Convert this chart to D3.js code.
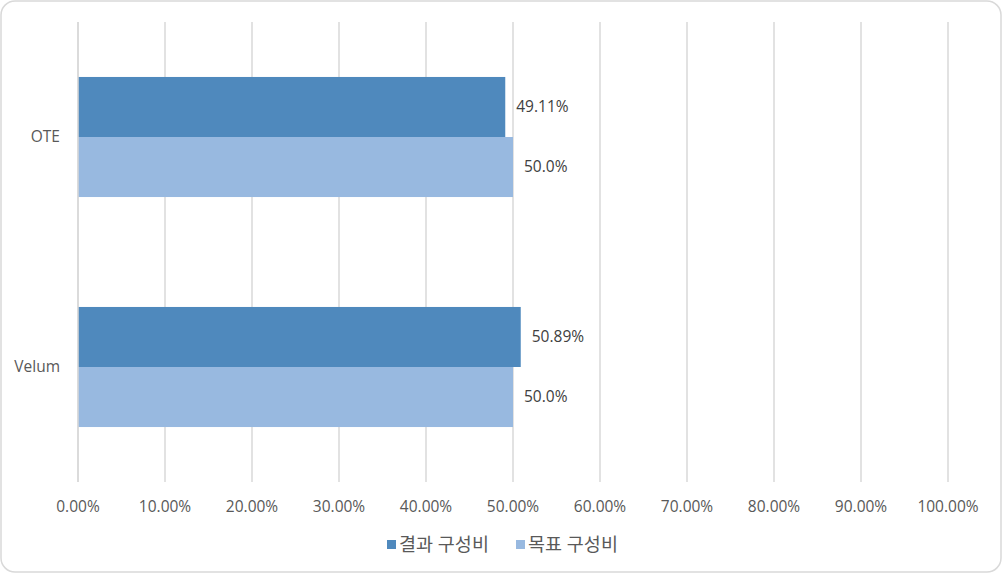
<!DOCTYPE html>
<html>
<head>
<meta charset="utf-8">
<script src="https://cdn.jsdelivr.net/npm/d3@7"></script>
<style>
  html, body { margin: 0; padding: 0; background: #fff; }
  svg { display: block; }
</style>
</head>
<body>
<div id="chart"></div>
<script>
// chart data
const categories = ['OTE', 'Velum'];
const seriesNames = ['결과 구성비', '목표 구성비'];
const resultValues = [49.11, 50.89];
const targetValues = [50.0, 50.0];
const resultLabels = ['49.11%', '50.89%'];
const targetLabels = ['50.0%', '50.0%'];
const tickValues = [0, 10, 20, 30, 40, 50, 60, 70, 80, 90, 100];

const width = 1003, height = 574;
const margin = { top: 22, right: 55, bottom: 92, left: 78 };
const colors = ['#4f89bd', '#98b9e0'];
const textColor = '#595959';
const font = "'Open Sans', 'Noto Sans CJK KR', sans-serif";

const svg = d3.select('#chart').append('svg')
    .attr('width', width)
    .attr('height', height)
    .style('font-family', font);

// outer border
svg.append('rect')
    .attr('x', 1).attr('y', 1)
    .attr('width', width - 3).attr('height', height - 3)
    .attr('rx', 14).attr('ry', 14)
    .attr('fill', '#fff')
    .attr('stroke', '#d9d9d9')
    .attr('stroke-width', 1.5);

const x = d3.scaleLinear()
    .domain([0, 100])
    .range([margin.left, width - margin.right]);

const y0 = d3.scaleBand()
    .domain(categories)
    .range([margin.top, height - margin.bottom])
    .paddingInner(0.478)
    .paddingOuter(0.239);

const y1 = d3.scaleBand()
    .domain(seriesNames)
    .range([0, y0.bandwidth()]);

// gridlines
svg.append('g')
    .selectAll('line')
    .data(tickValues)
    .join('line')
    .attr('x1', d => x(d)).attr('x2', d => x(d))
    .attr('y1', margin.top).attr('y2', height - margin.bottom)
    .attr('stroke', '#d9d9d9')
    .attr('stroke-width', 1.5);

// x tick labels
svg.append('g')
    .selectAll('text')
    .data(tickValues)
    .join('text')
    .attr('x', d => x(d))
    .attr('y', height - margin.bottom + 25)
    .attr('dy', '0.35em')
    .attr('text-anchor', 'middle')
    .attr('fill', textColor)
    .style('font-size', '15.5px')
    .text(d => d.toFixed(2) + '%');

// category labels
svg.append('g')
    .selectAll('text')
    .data(categories)
    .join('text')
    .attr('x', 60)
    .attr('y', d => y0(d) + y0.bandwidth() / 2)
    .attr('dy', '0.35em')
    .attr('text-anchor', 'end')
    .attr('fill', textColor)
    .style('font-size', '15.5px')
    .text(d => d);

// bars
const rows = categories.map((c, i) => ({
    cat: c,
    items: [
        { s: seriesNames[0], v: resultValues[i], label: resultLabels[i], color: colors[0] },
        { s: seriesNames[1], v: targetValues[i], label: targetLabels[i], color: colors[1] }
    ]
}));

const group = svg.append('g')
    .selectAll('g')
    .data(rows)
    .join('g')
    .attr('transform', d => `translate(0,${y0(d.cat)})`);

group.selectAll('rect')
    .data(d => d.items)
    .join('rect')
    .attr('x', x(0))
    .attr('y', d => y1(d.s))
    .attr('width', d => x(d.v) - x(0))
    .attr('height', y1.bandwidth())
    .attr('fill', d => d.color);

group.selectAll('text')
    .data(d => d.items)
    .join('text')
    .attr('x', d => x(d.v) + 11)
    .attr('y', d => y1(d.s) + y1.bandwidth() / 2)
    .attr('dy', '0.35em')
    .attr('fill', '#404040')
    .style('font-size', '15.5px')
    .text(d => d.label);

// y axis line
svg.append('line')
    .attr('x1', x(0)).attr('x2', x(0))
    .attr('y1', margin.top).attr('y2', height - margin.bottom)
    .attr('stroke', '#d9d9d9')
    .attr('stroke-width', 1.5);

// legend
const legendPos = [387, 516];
const legend = svg.append('g')
    .selectAll('g')
    .data(seriesNames)
    .join('g')
    .attr('transform', (d, i) => `translate(${legendPos[i]},545)`);

legend.append('rect')
    .attr('x', 0).attr('y', -5)
    .attr('width', 9).attr('height', 9)
    .attr('fill', (d, i) => colors[i]);

legend.append('text')
    .attr('x', 12)
    .attr('y', 0)
    .attr('dy', '0.35em')
    .attr('fill', textColor)
    .style('font-size', '18.5px')
    .text(d => d);
</script>
</body>
</html>
